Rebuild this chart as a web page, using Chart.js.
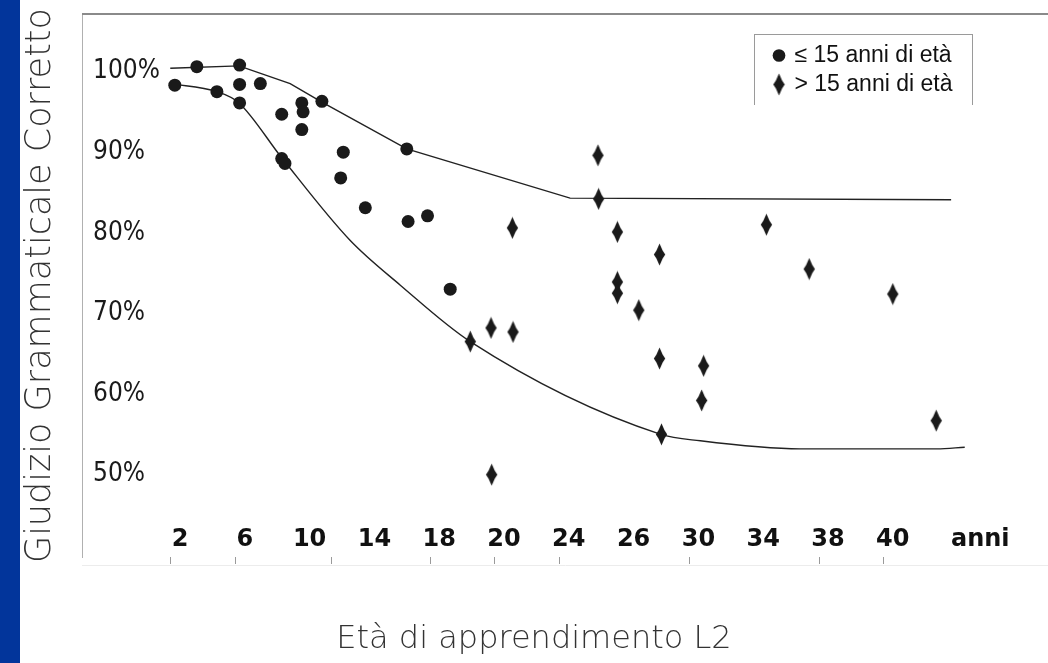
<!DOCTYPE html>
<html>
<head>
<meta charset="utf-8">
<script src="https://cdn.jsdelivr.net/npm/chart.js@4/dist/chart.umd.min.js"></script>
<style>
  html, body { margin: 0; padding: 0; background: #ffffff; }
  #wrap { position: relative; width: 1048px; height: 663px; overflow: hidden; background: #fff; }
  #bar { position: absolute; left: 0; top: 0; width: 20px; height: 663px; background: #02359b; }
  #topline { position: absolute; left: 82px; top: 13px; width: 966px; height: 2px; background: #8a8a8a; }
  #legbox { position: absolute; left: 754px; top: 34px; width: 217px; height: 70px;
            border-top: 1.5px solid #9a9a9a; border-left: 1.5px solid #9a9a9a; border-right: 1.5px solid #9a9a9a; }
  canvas { position: absolute; left: 0; top: 0; }
</style>
</head>
<body>
<div id="wrap">
  <canvas id="c" width="1048" height="663"></canvas>
  <div id="bar"></div>
  <div id="topline"></div>
  <div id="legbox"></div>
</div>
<script>
// ---- data (x in label-position units along the axis, y in %) ----
const xTickNames = ['2','6','10','14','18','20','24','26','30','34','38','40','anni'];
const xTickPos   = [0,1,2,3,4,5,6,7,8,9,10,11,12.35];
const xTickMarks = [-0.14,0.85,2.34,3.86,4.86,5.85,7.87,9.87,10.85];
const yTickVals  = [50,60,70,80,90,100];

const seriesNames = ['\u2264 15 anni di et\u00e0', '> 15 anni di et\u00e0'];

const youngX = [0.26,0.92,-0.08,0.57,0.92,1.24,0.92,1.88,1.90,1.57,1.88,2.19,1.57,1.62,2.52,2.48,3.50,2.86,3.52,3.82,4.17];
const youngY = [100.6,100.8,98.3,97.5,98.4,98.5,96.1,96.1,95.0,94.7,92.8,96.3,89.2,88.6,90.0,86.8,90.4,83.1,81.4,82.1,73.0];

const oldX = [6.45,6.46,5.13,6.75,7.40,6.75,6.75,7.08,4.80,5.14,4.48,7.40,7.43,4.81,9.05,9.71,11.00,8.08,8.05,11.67];
const oldY = [89.6,84.2,80.6,80.1,77.3,73.9,72.5,70.4,68.2,67.7,66.5,64.4,55.0,50.0,81.0,75.5,72.4,63.5,59.2,56.7];

const upperX = [-0.15,0.91,1.70,2.19,3.50,6.02,11.90];
const upperY = [100.4,100.7,98.5,96.2,90.4,84.3,84.1];

const lowerX = [-0.15,0.57,0.91,1.57,2.62,3.40,4.48,7.42,8.03,9.57,11.68,12.11];
const lowerY = [98.5,97.5,96.1,89.3,79.1,73.5,66.5,55.0,54.2,53.2,53.2,53.4];

// ---- helpers ----
const zip = (xs, ys) => xs.map((x, i) => ({x: x, y: ys[i]}));
const INK = '#1a1a1a';

// tall diamond marker
const dia = document.createElement('canvas');
dia.width = 13; dia.height = 23;
(function(){
  const g = dia.getContext('2d');
  g.fillStyle = INK;
  g.beginPath();
  g.moveTo(6.5, 0.5);
  g.lineTo(9.6, 7.5);
  g.lineTo(12.2, 11.5);
  g.lineTo(9.6, 15.5);
  g.lineTo(6.5, 22.5);
  g.lineTo(3.4, 15.5);
  g.lineTo(0.8, 11.5);
  g.lineTo(3.4, 7.5);
  g.closePath();
  g.fill();
})();

const X_MIN = -1.512, X_MAX = 13.395;
const Y_MIN = 39.79, Y_MAX = 107.13;

const legendPlacer = {
  id: 'legendPlacer',
  afterLayout(chart) {
    const l = chart.legend;
    if (!l) return;
    l.left = 769; l.top = 38; l.right = 769 + 220; l.bottom = 38 + 80;
    l.width = 220; l.height = 80;
  }
};

new Chart(document.getElementById('c'), {
  type: 'scatter',
  data: {
    datasets: [
      {
        label: seriesNames[0],
        data: zip(youngX, youngY),
        pointStyle: 'circle',
        pointRadius: 6.5,
        backgroundColor: INK,
        borderColor: INK,
        borderWidth: 0,
        pointBorderWidth: 0
      },
      {
        label: seriesNames[1],
        data: zip(oldX, oldY),
        pointStyle: dia,
        pointRadius: 7,
        backgroundColor: INK,
        borderColor: INK,
        borderWidth: 0
      },
      {
        type: 'line',
        label: 'upper',
        data: zip(upperX, upperY),
        showLine: true,
        borderColor: '#222',
        borderWidth: 1.4,
        pointRadius: 0,
        fill: false,
        tension: 0
      },
      {
        type: 'line',
        label: 'lower',
        data: zip(lowerX, lowerY),
        showLine: true,
        borderColor: '#222',
        borderWidth: 1.4,
        pointRadius: 0,
        fill: false,
        cubicInterpolationMode: 'monotone'
      }
    ]
  },
  options: {
    responsive: false,
    animation: false,
    events: [],
    layout: { autoPadding: false, padding: { left: 20, top: 14, right: 0, bottom: 0 } },
    plugins: {
      tooltip: { enabled: false },
      title: {
        display: true,
        position: 'bottom',
        align: 'center',
        text: 'Et\u00e0 di apprendimento L2',
        color: '#333',
        font: { family: "'DejaVu Sans', sans-serif", size: 32, weight: '200', lineHeight: 1 },
        padding: { top: 4, bottom: 7 }
      },
      legend: {
        display: true,
        position: 'chartArea',
        align: 'start',
        labels: {
          usePointStyle: true,
          boxWidth: 8,
          boxHeight: 9,
          padding: 6,
          color: '#111',
          font: { family: "'Liberation Sans', Arial, sans-serif", size: 23 },
          filter: (item) => item.datasetIndex < 2
        }
      }
    },
    scales: {
      y: {
        type: 'linear',
        position: 'left',
        min: Y_MIN,
        max: Y_MAX,
        afterBuildTicks: (s) => { s.ticks = yTickVals.map(v => ({value: v})); },
        afterFit: (s) => { s.width = 62; s.paddingTop = 0; s.paddingBottom = 0; },
        ticks: {
          mirror: true,
          padding: 11,
          color: '#1a1a1a',
          font: { family: "'Liberation Sans Narrow', 'DejaVu Sans Condensed', 'Liberation Sans', sans-serif", size: 26 },
          callback: (v) => v + '%'
        },
        grid: { display: false, drawTicks: false },
        border: { display: true, color: '#b0b0b0', width: 1 },
        title: {
          display: true,
          text: 'Giudizio Grammaticale Corretto',
          color: '#333',
          font: { family: "'DejaVu Sans', sans-serif", size: 35, weight: '200', lineHeight: 1 },
          padding: { top: 3, bottom: 1 }
        }
      },
      xt: {
        type: 'linear',
        position: 'bottom',
        weight: 0,
        min: X_MIN,
        max: X_MAX,
        afterBuildTicks: (s) => { s.ticks = xTickMarks.map(v => ({value: v})); },
        afterFit: (s) => { s.height = 8; s.paddingLeft = 0; s.paddingRight = 0; },
        ticks: { display: false },
        grid: { display: true, drawOnChartArea: false, drawTicks: true, tickLength: 7, color: '#9a9a9a', lineWidth: 1 },
        border: { display: false }
      },
      x: {
        type: 'linear',
        position: 'bottom',
        weight: 1,
        min: X_MIN,
        max: X_MAX,
        afterBuildTicks: (s) => { s.ticks = xTickPos.map(v => ({value: v})); },
        afterFit: (s) => { s.height = 55; s.paddingLeft = 0; s.paddingRight = 0; },
        ticks: {
          mirror: true,
          padding: 11,
          maxRotation: 0,
          autoSkip: false,
          color: '#111',
          font: { family: "'DejaVu Sans', sans-serif", size: 24, weight: 'bold', lineHeight: 1.2 },
          callback: (v) => { const i = xTickPos.indexOf(v); return i >= 0 ? xTickNames[i] : ''; }
        },
        grid: { display: false, drawTicks: false },
        border: { display: true, color: '#ececec', width: 1 }
      }
    }
  },
  plugins: [legendPlacer]
});
</script>
</body>
</html>
